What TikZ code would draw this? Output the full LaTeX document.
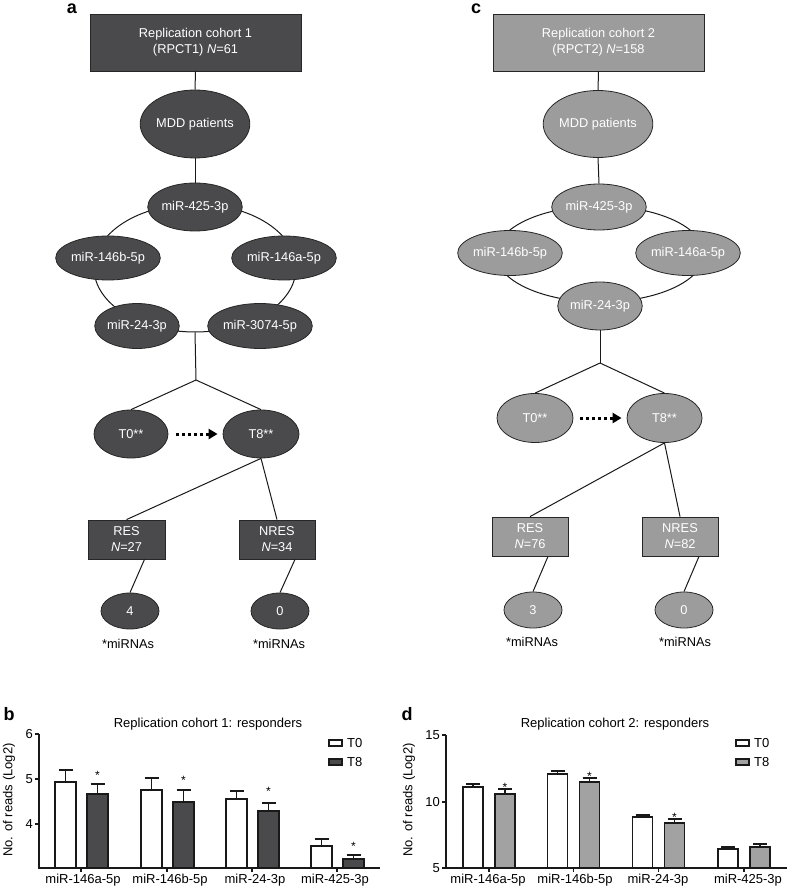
\documentclass[tikz,border=0pt]{standalone}
\usepackage{fontspec}
\setmainfont{Liberation Sans}
\usetikzlibrary{shapes.geometric,arrows.meta,calc}
\definecolor{dgray}{HTML}{4A4A4C}
\definecolor{lgray}{HTML}{9C9C9C}
\definecolor{lbar}{HTML}{A2A2A2}
\begin{document}
\begin{tikzpicture}[x=1pt,y=-1pt,
  font=\fontsize{12.8}{16}\selectfont,
  boxn/.style={draw=black!85,line width=0.8pt,rectangle,text=white,align=center,inner sep=0pt},
  elln/.style={draw=black!85,line width=0.8pt,ellipse,text=white,inner sep=0pt},
  ringn/.style={draw=black!90,line width=1pt,ellipse,inner sep=0pt},
  conn/.style={draw=black!90,line width=1pt},
  darr/.style={line width=3pt,dash pattern=on 3pt off 3pt,-{Triangle[length=9pt,width=10pt]}},
  plain/.style={text=black,inner sep=0pt},
  panel/.style={font=\fontsize{18}{18}\selectfont\bfseries,inner sep=0pt},
  axisl/.style={line width=1.2pt,black!90},
  barl/.style={line width=1.6pt,draw=black!90},
  starn/.style={font=\fontsize{12}{12}\selectfont,inner sep=0pt},
  chart/.style={font=\fontsize{13}{13}\selectfont,inner sep=0pt}
]
\useasboundingbox (0,0) rectangle (788,890);

% ---------------- Panel a ----------------
\node[panel] (la) at (72,9) {a};
\node[ringn,minimum width=202pt,minimum height=128pt] (ringa) at (195,268) {};
\node[boxn,fill=dgray,minimum width=211pt,minimum height=57pt] (topa) at (195.5,42.5) {Replication cohort 1\\(RPCT1) \textit{N}=61};
\node[elln,fill=dgray,minimum width=106pt,minimum height=68pt] (mdda) at (195,124) {MDD patients};
\node[elln,fill=dgray,minimum width=81pt,minimum height=48pt] (m425a) at (195,207) {miR-425-3p};
\node[elln,fill=dgray,minimum width=82pt,minimum height=44pt] (m146ba) at (108,258) {miR-146b-5p};
\node[elln,fill=dgray,minimum width=82pt,minimum height=44pt] (m146aa) at (284,258) {miR-146a-5p};
\node[elln,fill=dgray,minimum width=73pt,minimum height=45pt] (m24a) at (137,326) {miR-24-3p};
\node[elln,fill=dgray,minimum width=77pt,minimum height=45pt] (m3074a) at (260,326) {miR-3074-5p};
\coordinate (ja) at (196,380);
\node[elln,fill=dgray,minimum width=74pt,minimum height=48pt] (t0a) at (131,434) {T0**};
\node[elln,fill=dgray,minimum width=76pt,minimum height=48pt] (t8a) at (261,434) {T8**};
\node[boxn,fill=dgray,minimum width=77pt,minimum height=39pt] (resa) at (126.5,539.5) {RES\\\textit{N}=27};
\node[boxn,fill=dgray,minimum width=76pt,minimum height=39pt] (nresa) at (277,539.5) {NRES\\\textit{N}=34};
\node[elln,fill=dgray,minimum width=58pt,minimum height=36pt] (n4a) at (130,611) {4};
\node[elln,fill=dgray,minimum width=58pt,minimum height=36pt] (n0a) at (280,611) {0};
\node[plain] (mira1) at (128,644) {*miRNAs};
\node[plain] (mira2) at (279,644) {*miRNAs};

\draw[conn] (topa.south) -- (mdda.north);
\draw[conn] (mdda.south) -- (m425a.north);
\draw[conn] (ringa.south) -- (ja);
\draw[conn] (ja) -- (t0a.north);
\draw[conn] (ja) -- (t8a.north);
\draw[darr,shorten <=8pt,shorten >=5pt] (t0a.east) -- (t8a.west);
\draw[conn] (t8a.south) -- (resa.north);
\draw[conn] (t8a.south) -- (nresa.north);
\draw[conn] ([xshift=18pt]resa.south) -- (n4a.north);
\draw[conn] ([xshift=18pt]nresa.south) -- (n0a.north);

% ---------------- Panel c ----------------
\node[panel] (lc) at (476,9) {c};
\node[ringn,minimum width=208pt,minimum height=96pt] (ringc) at (600,254) {};
\node[boxn,fill=lgray,minimum width=211pt,minimum height=57pt] (topc) at (598.5,42.5) {Replication cohort 2\\(RPCT2) \textit{N}=158};
\node[elln,fill=lgray,minimum width=107pt,minimum height=67pt] (mddc) at (598,124) {MDD patients};
\node[elln,fill=lgray,minimum width=82pt,minimum height=46pt] (m425c) at (599,207) {miR-425-3p};
\node[elln,fill=lgray,minimum width=78pt,minimum height=45pt] (m146bc) at (510,253) {miR-146b-5p};
\node[elln,fill=lgray,minimum width=79pt,minimum height=45pt] (m146ac) at (688,253) {miR-146a-5p};
\node[elln,fill=lgray,minimum width=78pt,minimum height=48pt] (m24c) at (600,306) {miR-24-3p};
\coordinate (jc) at (600,363);
\node[elln,fill=lgray,minimum width=76pt,minimum height=49pt] (t0c) at (535,418) {T0**};
\node[elln,fill=lgray,minimum width=75pt,minimum height=49pt] (t8c) at (664.5,418) {T8**};
\node[boxn,fill=lgray,minimum width=76pt,minimum height=39pt] (resc) at (530,536.5) {RES\\\textit{N}=76};
\node[boxn,fill=lgray,minimum width=76pt,minimum height=39pt] (nresc) at (680,536.5) {NRES\\\textit{N}=82};
\node[elln,fill=lgray,minimum width=58pt,minimum height=36pt] (n3c) at (533,610) {3};
\node[elln,fill=lgray,minimum width=58pt,minimum height=36pt] (n0c) at (684,610) {0};
\node[plain] (mirc1) at (532,642) {*miRNAs};
\node[plain] (mirc2) at (685,642) {*miRNAs};

\draw[conn] (topc.south) -- (mddc.north);
\draw[conn] (mddc.south) -- (m425c.north);
\draw[conn] (m24c.south) -- (jc);
\draw[conn] (jc) -- (t0c.north);
\draw[conn] (jc) -- (t8c.north);
\draw[darr,shorten <=7pt,shorten >=5pt] (t0c.east) -- (t8c.west);
\draw[conn] (t8c.south) -- (resc.north);
\draw[conn] (t8c.south) -- (nresc.north);
\draw[conn] ([xshift=18pt]resc.south) -- (n3c.north);
\draw[conn] ([xshift=19pt]nresc.south) -- (n0c.north);

% ---------------- Chart b ----------------
\node[panel] (lb) at (9,714) {b};
\node[chart] (titleb) at (208,724) {Replication cohort 1: responders};
\node[chart,rotate=90] (ylabb) at (9,800) {No. of reads (Log2)};
\foreach \g/\a/\ae/\b/\be/\s [count=\i] in {81/782/770/794/784/772, 167/790/778/802/790/777, 252/799/791/811/803/788, 337/846/839/859/855/843} {
  \draw[barl] ({\g-15.5},\a) -- ({\g-15.5},\ae);
  \draw[barl] ({\g-22.5},\ae) -- ({\g-8.5},\ae);
  \draw[barl,fill=white] ({\g-26},868) rectangle ({\g-5},\a);
  \draw[barl] ({\g+16.5},\b) -- ({\g+16.5},\be);
  \draw[barl] ({\g+9.5},\be) -- ({\g+23.5},\be);
  \draw[barl,fill=dgray] ({\g+6},868) rectangle ({\g+27},\b);
  \node[starn] (sb\i) at ({\g+16.5},{\s+3}) {*};
  \draw[axisl] (\g,868) -- (\g,872);
}
\draw[axisl] (39,734) -- (39,868) -- (380,868);
\foreach \y/\l in {734/6,779/5,824/4} {
  \draw[axisl] (35,\y) -- (39,\y);
  \node[chart,anchor=east] (tb\l) at (33,\y) {\l};
}
\node[chart] (xb1) at (83,880) {miR-146a-5p};
\node[chart] (xb2) at (170,880) {miR-146b-5p};
\node[chart] (xb3) at (255,880) {miR-24-3p};
\node[chart] (xb4) at (335,880) {miR-425-3p};
\draw[barl,fill=white] (329,740) rectangle (342,746);
\node[chart,anchor=west] (legb1) at (347,743) {T0};
\draw[barl,fill=dgray] (329,759) rectangle (342,765);
\node[chart,anchor=west] (legb2) at (347,762) {T8};

% ---------------- Chart d ----------------
\node[panel] (ld) at (407,714) {d};
\node[chart] (titled) at (615,724) {Replication cohort 2: responders};
\node[chart,rotate=90] (ylabd) at (409,800) {No. of reads (Log2)};
\foreach \g/\a/\ae/\b/\be/\s [count=\i] in {489/787/784/794/789/784, 573.5/774/771/782/778/773, 658.5/817/815/823/819/814} {
  \draw[barl] ({\g-16},\a) -- ({\g-16},\ae);
  \draw[barl] ({\g-23},\ae) -- ({\g-9},\ae);
  \draw[barl,fill=white] ({\g-26},868) rectangle ({\g-6},\a);
  \draw[barl] ({\g+16},\b) -- ({\g+16},\be);
  \draw[barl] ({\g+9},\be) -- ({\g+23},\be);
  \draw[barl,fill=lbar] ({\g+6},868) rectangle ({\g+26},\b);
  \node[starn] (sd\i) at ({\g+16},{\s+3}) {*};
  \draw[axisl] (\g,868) -- (\g,872);
}
% group 4 (no star)
\draw[barl] (728,849) -- (728,847);
\draw[barl] (721,847) -- (735,847);
\draw[barl,fill=white] (718,868) rectangle (738,849);
\draw[barl] (760,847) -- (760,844);
\draw[barl] (753,844) -- (767,844);
\draw[barl,fill=lbar] (750,868) rectangle (770,847);
\draw[axisl] (744,868) -- (744,872);
\draw[axisl] (446,735) -- (446,868) -- (787,868);
\foreach \y/\l in {735/15,802/10,868/5} {
  \draw[axisl] (442,\y) -- (446,\y);
  \node[chart,anchor=east] (td\l) at (440,\y) {\l};
}
\node[chart] (xd1) at (488,880) {miR-146a-5p};
\node[chart] (xd2) at (575,880) {miR-146b-5p};
\node[chart] (xd3) at (658,880) {miR-24-3p};
\node[chart] (xd4) at (748,880) {miR-425-3p};
\draw[barl,fill=white] (736,740) rectangle (749,746);
\node[chart,anchor=west] (legd1) at (754,743) {T0};
\draw[barl,fill=lbar] (736,759) rectangle (749,765);
\node[chart,anchor=west] (legd2) at (754,762) {T8};
\end{tikzpicture}
\end{document}
